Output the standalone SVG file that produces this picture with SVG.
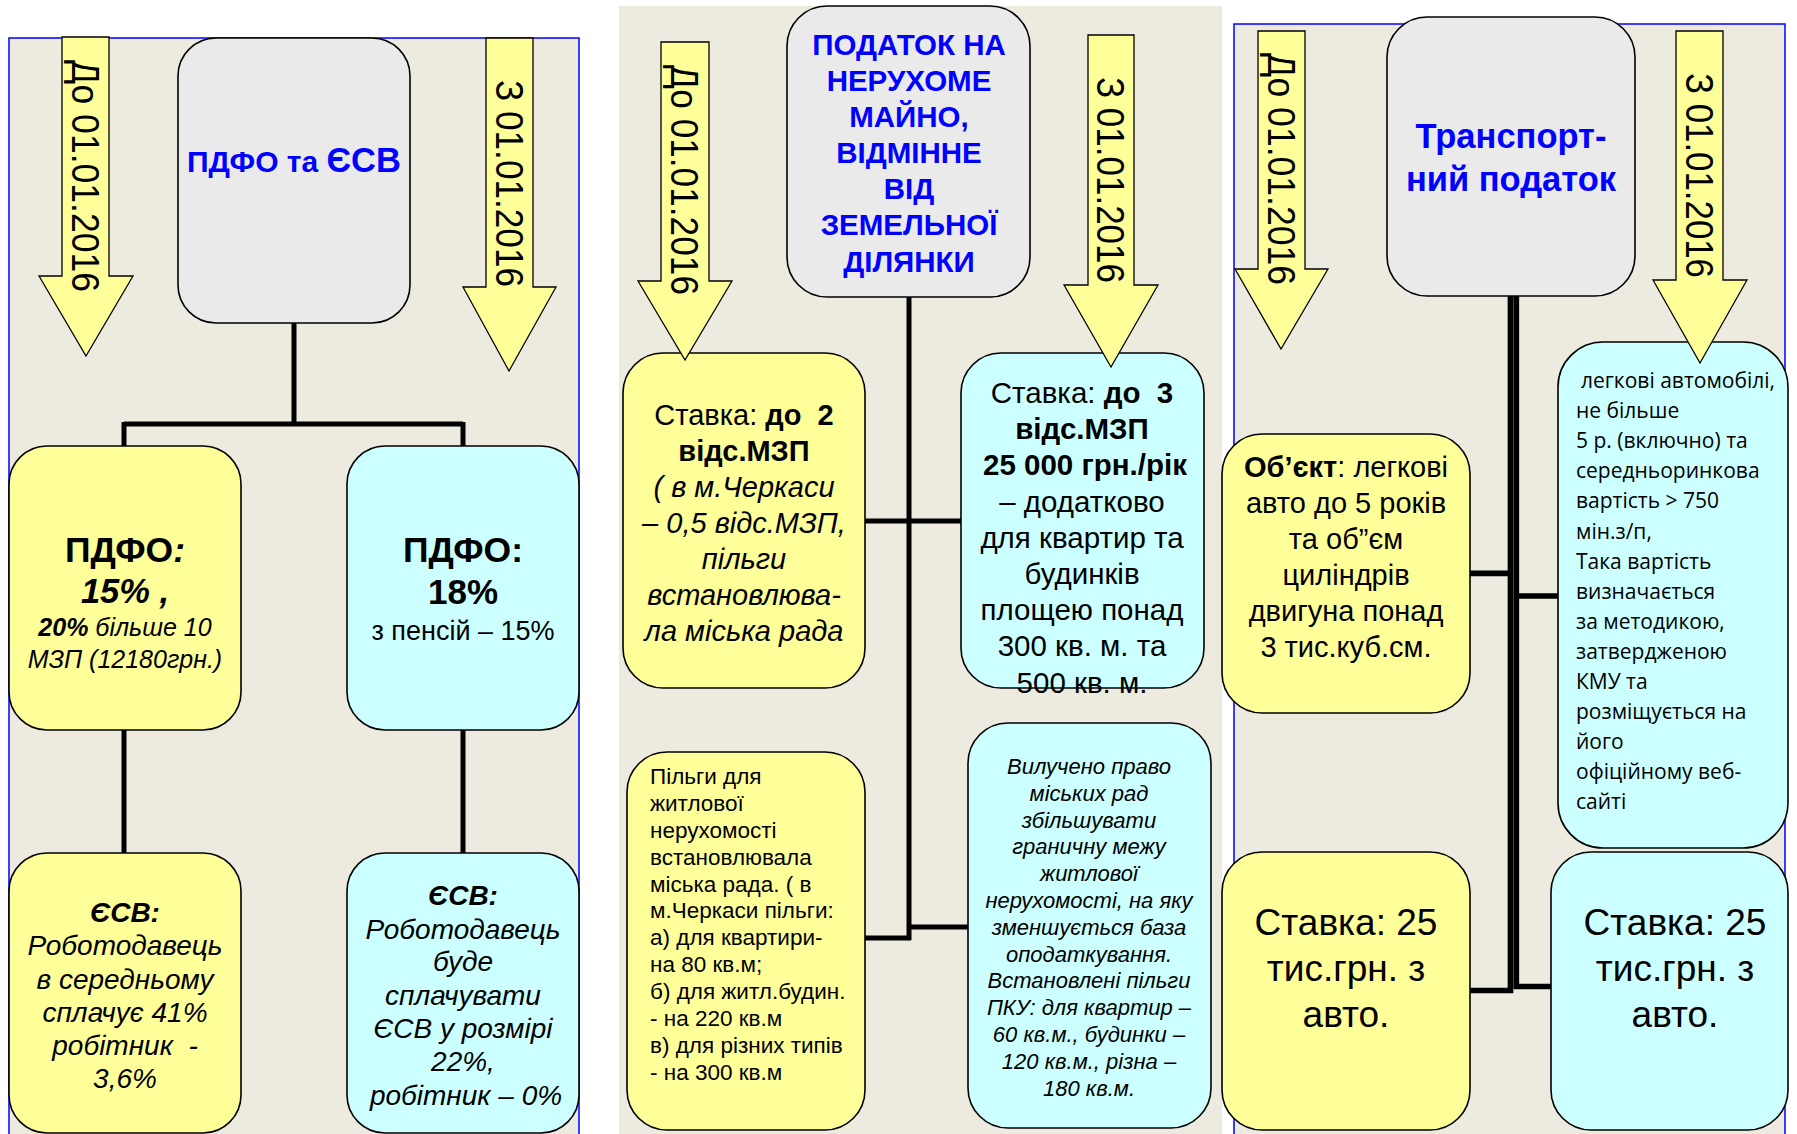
<svg xmlns="http://www.w3.org/2000/svg" width="1797" height="1134" viewBox="0 0 1797 1134">
<style>
text{font-family:"Liberation Sans",Arial,sans-serif;fill:#000}
.m{text-anchor:middle}
.b{font-weight:bold}
.i{font-style:italic}
.ttl{fill:#0000FF;font-weight:bold;text-anchor:middle}
.panel{fill:#EDEAE0}
.pb{stroke:#0000FF;stroke-width:1.5}
.n{stroke:#000;stroke-width:1.6}
.y{fill:#FFFF99}.c{fill:#CCFFFF}.g{fill:#EAEAEA}
.arr{fill:#FFFF99;stroke:#000;stroke-width:1.3}
.at{font-size:39px}
.con{fill:none;stroke:#000;stroke-width:5}
.con2{fill:none;stroke:#000;stroke-width:5.7}
.cal{font-family:"Open Sans","Noto Sans",sans-serif;font-size:21px}
</style>
<rect width="1797" height="1134" fill="#FFFFFF"/>
<g id="panels">
<rect class="panel pb" x="9" y="38" width="570" height="1110"/>
<rect class="panel" x="619" y="6" width="603" height="1140"/>
<rect class="panel pb" x="1234" y="24" width="551" height="1120"/>
</g>
<g id="connectors">
<path class="con" d="M294,323 V424 M124,424 H463 M124,422 V446 M463,422 V446 M124,730 V853 M463,730 V853"/>
<path class="con" d="M909,297 V940 M865,521 H961 M909,927 H968 M865,938 H911"/>
<path class="con2" d="M1510.5,296 V993 M1470,573.3 H1513 M1470,990.5 H1513"/>
<path class="con2" d="M1516.3,296 V989 M1514,596 H1558 M1514,986.5 H1551"/>
</g>
<g id="p1-top"><rect class="n g" x="178" y="38" width="232" height="285" rx="38"/>
<text class="ttl" x="294" y="172"><tspan font-size="30">ПДФО та </tspan><tspan font-size="34.5">ЄСВ</tspan></text></g>
<g id="p1-l1"><rect class="n y" x="9" y="446" width="232" height="284" rx="38"/>
<text class="m b" x="125" y="562" font-size="35.5">ПДФО<tspan class="i">:</tspan></text>
<text class="m b i" x="125" y="603" font-size="34.5">15% ,</text>
<text class="m i" x="125" y="636" font-size="25"><tspan class="b">20%</tspan> більше 10</text>
<text class="m i" x="125" y="668" font-size="25">МЗП (12180грн.)</text></g>
<g id="p1-r1"><rect class="n c" x="347" y="446" width="232" height="284" rx="38"/>
<text class="m b" x="463" y="562" font-size="35.5">ПДФО:</text>
<text class="m b" x="463" y="604" font-size="35">18%</text>
<text class="m" x="463" y="640" font-size="27">з пенсій – 15%</text></g>
<g id="p1-l2"><rect class="n y" x="9" y="853" width="232" height="280" rx="38"/>
<text class="m i" font-size="28"><tspan class="b" x="125" y="922">ЄСВ:</tspan><tspan x="125" y="955">Роботодавець</tspan><tspan x="125" y="989">в середньому</tspan><tspan x="125" y="1022">сплачує 41%</tspan><tspan x="125" y="1055">робітник&#160; -</tspan><tspan x="125" y="1088">3,6%</tspan></text></g>
<g id="p1-r2"><rect class="n c" x="347" y="853" width="232" height="280" rx="38"/>
<text class="m i" font-size="28"><tspan class="b" x="463" y="905">ЄСВ:</tspan><tspan x="463" y="939">Роботодавець</tspan><tspan x="463" y="971">буде</tspan><tspan x="463" y="1005">сплачувати</tspan><tspan x="463" y="1038">ЄСВ у розмірі</tspan><tspan x="463" y="1071">22%,</tspan><tspan x="466" y="1105">робітник – 0%</tspan></text></g>
<g id="p2-top"><rect class="n g" x="787" y="6" width="243" height="291" rx="40"/>
<text class="ttl" font-size="29.5"><tspan x="909" y="55">ПОДАТОК НА</tspan><tspan x="909" y="91">НЕРУХОМЕ</tspan><tspan x="909" y="127">МАЙНО,</tspan><tspan x="909" y="163">ВІДМІННЕ</tspan><tspan x="909" y="199">ВІД</tspan><tspan x="909" y="235">ЗЕМЕЛЬНОЇ</tspan><tspan x="909" y="272">ДІЛЯНКИ</tspan></text></g>
<g id="p2-l1"><rect class="n y" x="623" y="353" width="242" height="335" rx="40"/>
<text class="m" font-size="29"><tspan x="744" y="425">Ставка: <tspan class="b">до&#160; 2</tspan></tspan><tspan class="b" x="744" y="461">відс.МЗП</tspan><tspan class="i" x="744" y="497">( в м.Черкаси</tspan><tspan class="i" x="744" y="533">– 0,5 відс.МЗП,</tspan><tspan class="i" x="744" y="569">пільги</tspan><tspan class="i" x="744" y="605">встановлюва-</tspan><tspan class="i" x="744" y="641">ла міська рада</tspan></text></g>
<g id="p2-r1"><rect class="n c" x="961" y="353" width="243" height="335" rx="40"/>
<text class="m" font-size="29.5"><tspan x="1082" y="403">Ставка: <tspan class="b">до&#160; 3</tspan></tspan><tspan class="b" x="1082" y="439">відс.МЗП</tspan><tspan class="b" x="1085" y="475">25 000 грн./рік</tspan><tspan x="1082" y="512">– додатково</tspan><tspan x="1082" y="548">для квартир та</tspan><tspan x="1082" y="584">будинків</tspan><tspan x="1082" y="620">площею понад</tspan><tspan x="1082" y="656">300 кв. м. та</tspan><tspan x="1082" y="693">500 кв. м.</tspan></text></g>
<g id="p2-l2"><rect class="n y" x="627" y="752" width="238" height="378" rx="40"/>
<text font-size="22.5"><tspan x="650" y="784">Пільги для</tspan><tspan x="650" y="811">житлової</tspan><tspan x="650" y="838">нерухомості</tspan><tspan x="650" y="865">встановлювала</tspan><tspan x="650" y="892">міська рада. ( в</tspan><tspan x="650" y="918">м.Черкаси пільги:</tspan><tspan x="650" y="945">а) для квартири-</tspan><tspan x="650" y="972">на 80 кв.м;</tspan><tspan x="650" y="999">б) для житл.будин.</tspan><tspan x="650" y="1026">- на 220 кв.м</tspan><tspan x="650" y="1053">в) для різних типів</tspan><tspan x="650" y="1080">- на 300 кв.м</tspan></text></g>
<g id="p2-r2"><rect class="n c" x="968" y="723" width="243" height="405" rx="40"/>
<text class="m i" font-size="22"><tspan x="1089" y="774">Вилучено право</tspan><tspan x="1089" y="801">міських рад</tspan><tspan x="1089" y="828">збільшувати</tspan><tspan x="1089" y="854">граничну межу</tspan><tspan x="1089" y="881">житлової</tspan><tspan x="1089" y="908">нерухомості, на яку</tspan><tspan x="1089" y="935">зменшується база</tspan><tspan x="1089" y="962">оподаткування.</tspan><tspan x="1089" y="988">Встановлені пільги</tspan><tspan x="1089" y="1015">ПКУ: для квартир –</tspan><tspan x="1089" y="1042">60 кв.м., будинки –</tspan><tspan x="1089" y="1069">120 кв.м., різна –</tspan><tspan x="1089" y="1096">180 кв.м.</tspan></text></g>
<g id="p3-top"><rect class="n g" x="1387" y="17" width="248" height="279" rx="40"/>
<text class="ttl" font-size="34.5"><tspan x="1511" y="148">Транспорт-</tspan><tspan x="1511" y="191">ний податок</tspan></text></g>
<g id="p3-l1"><rect class="n y" x="1222" y="434" width="248" height="279" rx="40"/>
<text class="m" font-size="29"><tspan x="1346" y="477"><tspan class="b">Об’єкт</tspan>: легкові</tspan><tspan x="1346" y="513">авто до 5 років</tspan><tspan x="1346" y="549">та об”єм</tspan><tspan x="1346" y="585">циліндрів</tspan><tspan x="1346" y="621">двигуна понад</tspan><tspan x="1346" y="657">3 тис.куб.см.</tspan></text></g>
<g id="p3-r1"><rect class="n c" x="1558" y="342" width="230" height="506" rx="45"/>
<text class="cal"><tspan x="1581" y="388">легкові автомобілі,</tspan><tspan x="1576" y="418">не більше</tspan><tspan x="1576" y="448">5 р. (включно) та</tspan><tspan x="1576" y="478">середньоринкова</tspan><tspan x="1576" y="508">вартість &gt; 750</tspan><tspan x="1576" y="539">мін.з/п,</tspan><tspan x="1576" y="569">Така вартість</tspan><tspan x="1576" y="599">визначається</tspan><tspan x="1576" y="629">за методикою,</tspan><tspan x="1576" y="659">затвердженою</tspan><tspan x="1576" y="689">КМУ та</tspan><tspan x="1576" y="719">розміщується на</tspan><tspan x="1576" y="749">його</tspan><tspan x="1576" y="779">офіційному веб-</tspan><tspan x="1576" y="809">сайті</tspan></text></g>
<g id="p3-l2"><rect class="n y" x="1222" y="852" width="248" height="278" rx="40"/>
<text class="m" font-size="37"><tspan x="1346" y="935">Ставка: 25</tspan><tspan x="1346" y="981">тис.грн. з</tspan><tspan x="1346" y="1027">авто.</tspan></text></g>
<g id="p3-r2"><rect class="n c" x="1551" y="852" width="237" height="278" rx="40"/>
<text class="m" font-size="37"><tspan x="1675" y="935">Ставка: 25</tspan><tspan x="1675" y="981">тис.грн. з</tspan><tspan x="1675" y="1027">авто.</tspan></text></g>
<g id="arrows">
<polygon class="arr" points="62,37 109,37 109,276 133,276 86,356 39,276 62,276"/>
<text class="at" transform="translate(71.5,60) rotate(90)" textLength="232" lengthAdjust="spacingAndGlyphs">До 01.01.2016</text>
<polygon class="arr" points="486,38 533,38 533,287 556,287 509,371 463,287 486,287"/>
<text class="at" transform="translate(495.5,80) rotate(90)" textLength="207" lengthAdjust="spacingAndGlyphs">З 01.01.2016</text>
<polygon class="arr" points="661,42 709,42 709,281 732,281 685,360 638,281 661,281"/>
<text class="at" transform="translate(671,65) rotate(90)" textLength="230" lengthAdjust="spacingAndGlyphs">До 01.01.2016</text>
<polygon class="arr" points="1088,35 1134,35 1134,285 1158,285 1111,367 1064,285 1088,285"/>
<text class="at" transform="translate(1097,77) rotate(90)" textLength="206" lengthAdjust="spacingAndGlyphs">З 01.01.2016</text>
<polygon class="arr" points="1258,31 1305,31 1305,269 1328,269 1281,349 1235,269 1258,269"/>
<text class="at" transform="translate(1267.5,53) rotate(90)" textLength="232" lengthAdjust="spacingAndGlyphs">До 01.01.2016</text>
<polygon class="arr" points="1676,31 1723,31 1723,280 1747,280 1700,363 1653,280 1676,280"/>
<text class="at" transform="translate(1685.5,73) rotate(90)" textLength="205" lengthAdjust="spacingAndGlyphs">З 01.01.2016</text>
</g>
</svg>
